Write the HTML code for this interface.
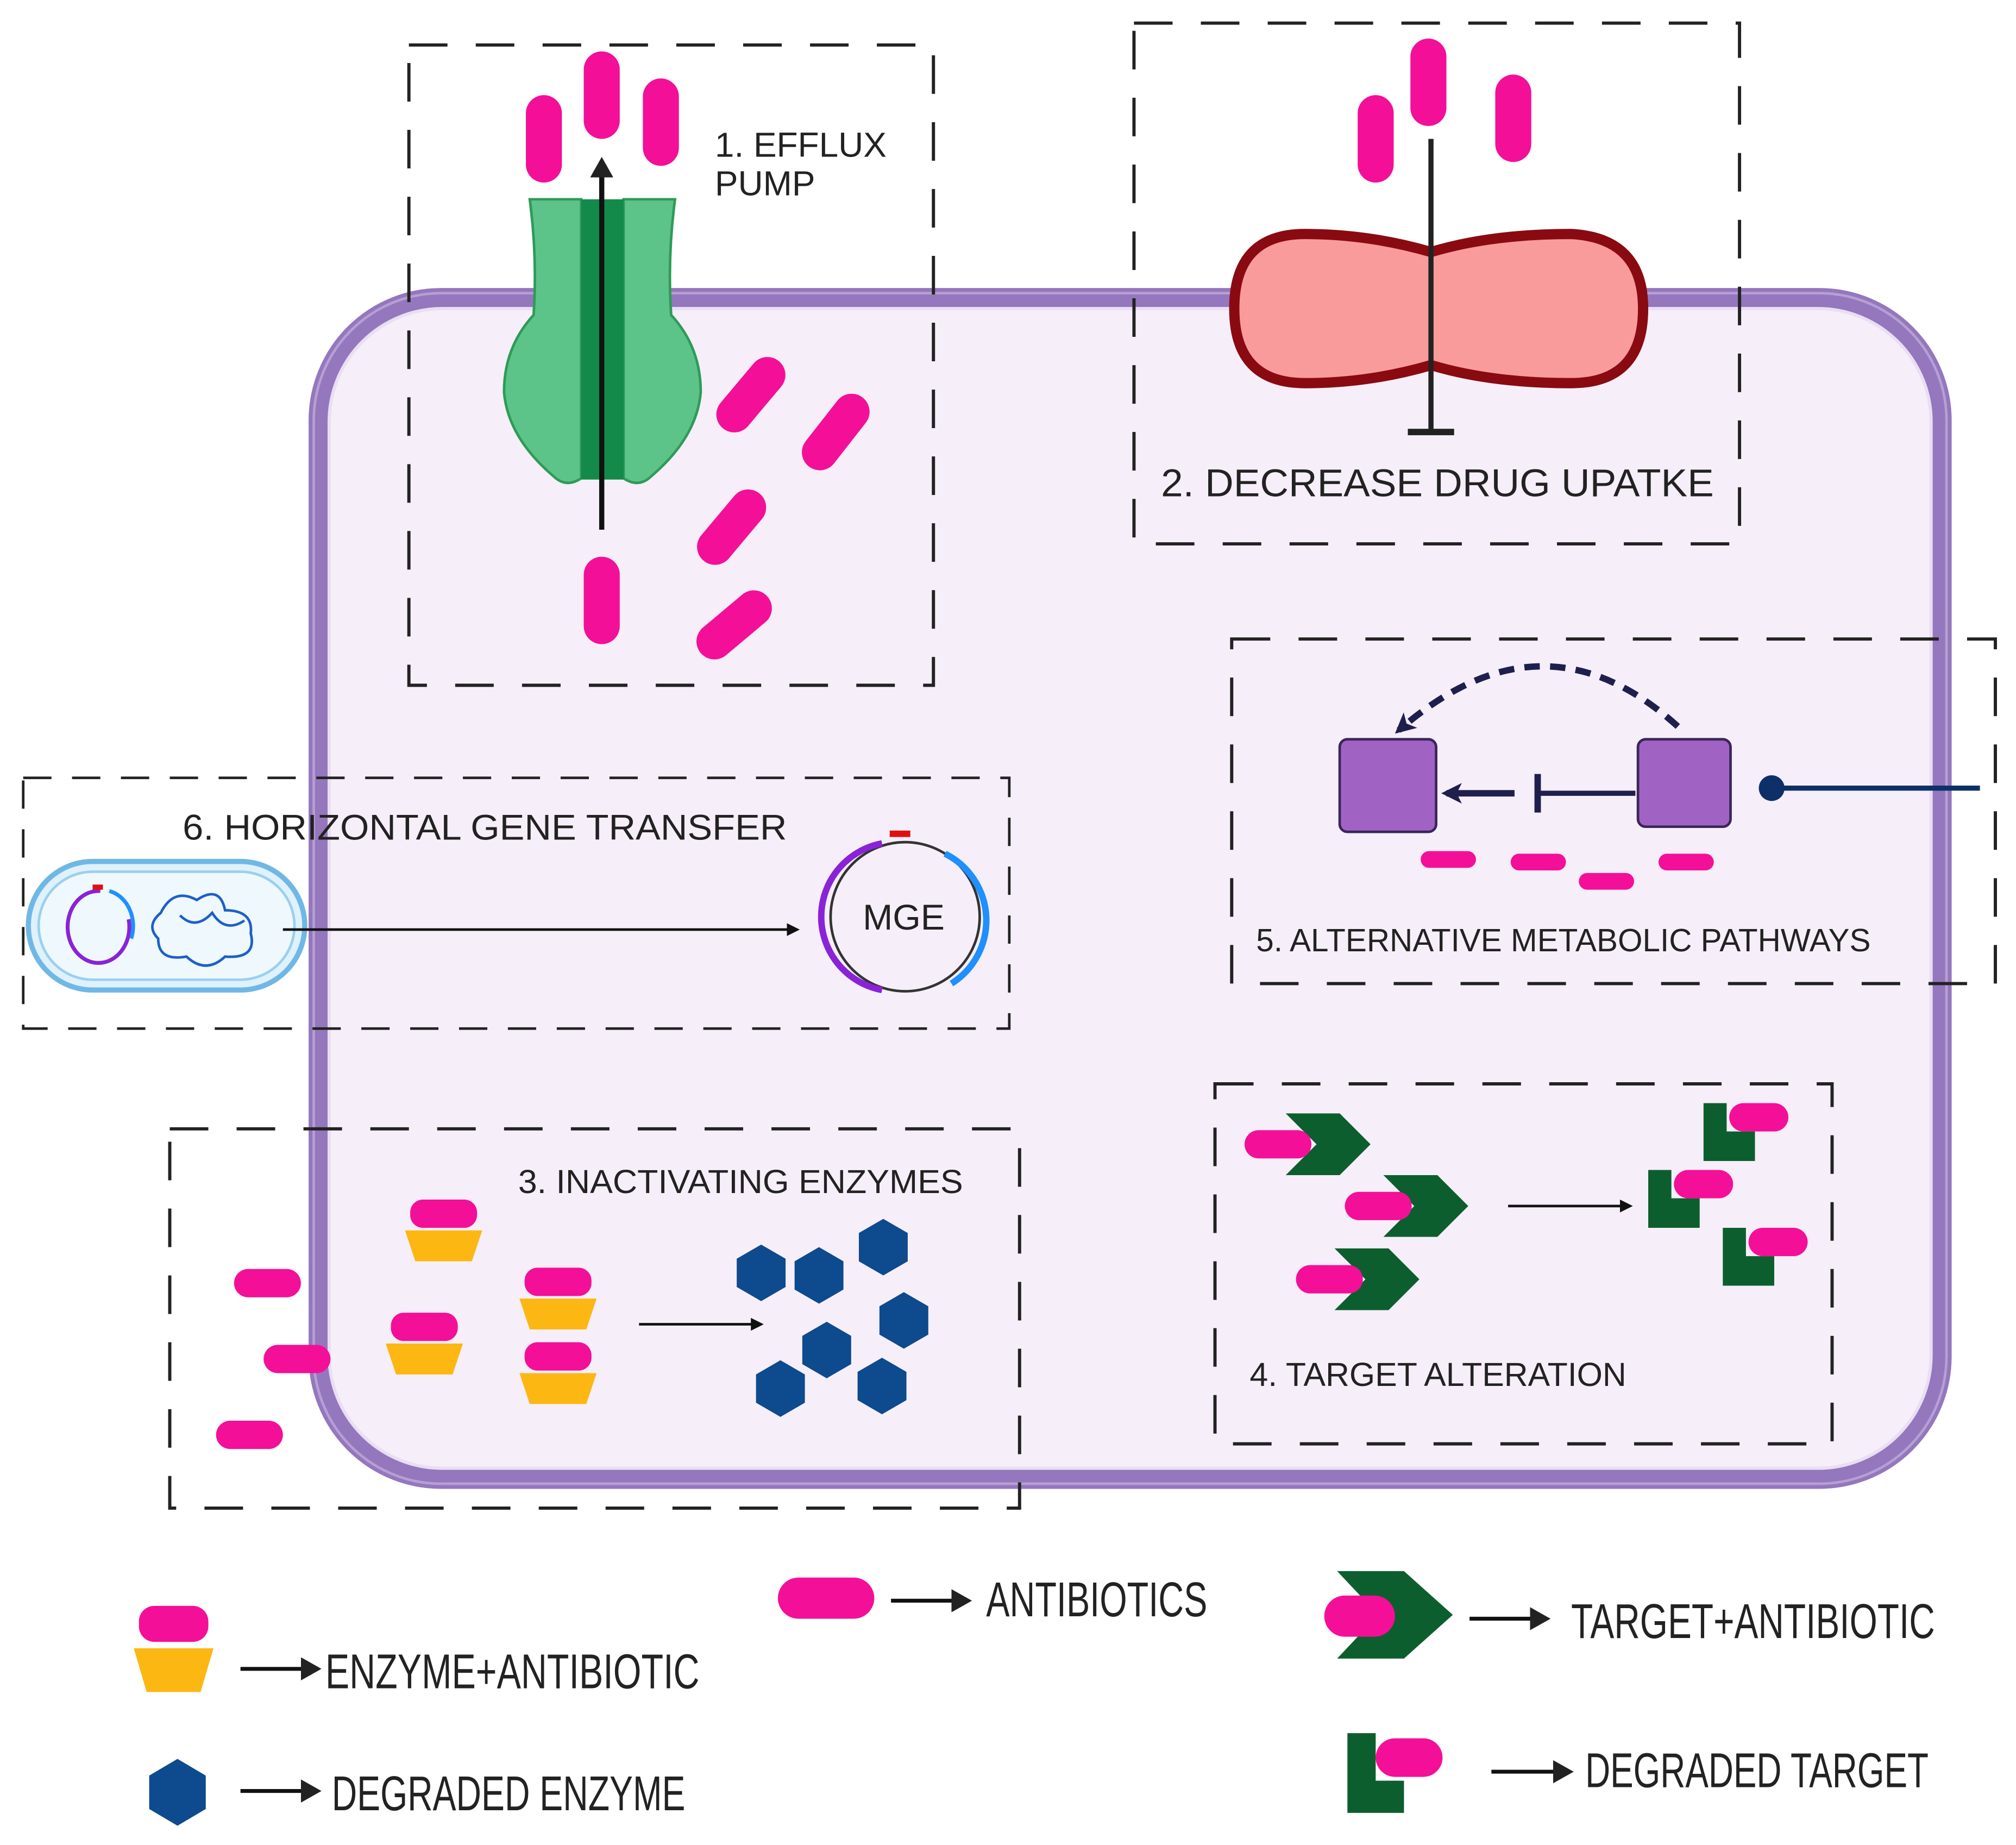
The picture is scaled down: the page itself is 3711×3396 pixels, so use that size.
<!DOCTYPE html>
<html><head><meta charset="utf-8"><style>
html,body{margin:0;padding:0;background:#fff;}
svg{display:block;}
text{font-family:"Liberation Sans",sans-serif;fill:#222;}
</style></head><body>
<svg width="3711" height="3396" viewBox="0 0 1568 1435" xmlns="http://www.w3.org/2000/svg">
<defs>
<marker id="ah" markerWidth="10" markerHeight="10" refX="8" refY="5" orient="auto" markerUnits="userSpaceOnUse"><path d="M0,0 L10,5 L0,10 z" fill="#111"/></marker>
<marker id="ahb" markerWidth="16" markerHeight="16" refX="12" refY="8" orient="auto" markerUnits="userSpaceOnUse"><path d="M0,0 L16,8 L0,16 L4,8 z" fill="#1f1f4e"/></marker>
<marker id="ahk" markerWidth="16" markerHeight="18" refX="10" refY="9" orient="auto" markerUnits="userSpaceOnUse"><path d="M0,0 L16,9 L0,18 z" fill="#222"/></marker>
<g id="pill"><rect x="-26" y="-11" width="52" height="22" rx="11" fill="#f30f97"/></g>
<g id="vpill"><rect x="-14" y="-34" width="28" height="68" rx="14" fill="#f30f97"/></g>
<polygon id="hex" points="0,-22 19,-11 19,11 0,22 -19,11 -19,-11" fill="#0e4a8e"/>
<g id="enz"><rect x="-26" y="-22" width="52" height="22" rx="10" fill="#f30f97"/><polygon points="-30,2 30,2 22,26 -22,26" fill="#fdb713"/></g>
<g id="chev"><polygon points="0,-24 42,-24 66,0 42,24 0,24 24,0" fill="#0d5e2e"/></g>
<g id="ell"><polygon points="0,0 18,0 18,22 40,22 40,45 0,45" fill="#0d5e2e"/><rect x="20" y="0" width="46" height="22" rx="11" fill="#f30f97"/></g>
</defs>

<rect x="248" y="232" width="1262" height="918" rx="95" fill="#f6eef8" stroke="#9477bd" stroke-width="16"/>
<rect x="256" y="240" width="1246" height="902" rx="88" fill="none" stroke="#e9def3" stroke-width="2.5"/>
<rect x="244" y="228" width="1270" height="926" rx="99" fill="none" stroke="#b69fd4" stroke-width="2"/>

<g fill="none" stroke="#222" stroke-width="2.5" stroke-dasharray="30,22">
<rect x="318" y="35" width="408" height="498"/>
<rect x="882" y="18" width="471" height="405"/>
<rect x="958" y="497" width="594" height="268"/>
<rect x="18" y="605" width="767" height="195" stroke-dasharray="22,16" stroke-width="2"/>
<rect x="132" y="878" width="661" height="295"/>
<rect x="945" y="843" width="480" height="280"/>
</g>

<path d="M412,155 L452,155 L452,372 Q440,380 430,370 Q395,340 392,305 Q392,270 415,245 Q418,200 412,155 Z" fill="#5cc488" stroke="#2f9a5a" stroke-width="2"/>
<path d="M525,155 L485,155 L485,372 Q497,380 507,370 Q542,340 545,305 Q545,270 522,245 Q519,200 525,155 Z" fill="#5cc488" stroke="#2f9a5a" stroke-width="2"/>
<rect x="452" y="155" width="33" height="218" fill="#148a4a"/>
<line x1="468" y1="412" x2="468" y2="128" stroke="#111" stroke-width="4" marker-end="url(#ahk)"/>
<use href="#vpill" x="423" y="108"/><use href="#vpill" x="468" y="74"/><use href="#vpill" x="514" y="95"/>
<use href="#vpill" x="468" y="467"/>
<use href="#vpill" transform="translate(584,307) rotate(40)"/>
<use href="#vpill" transform="translate(650,336) rotate(38)"/>
<use href="#vpill" transform="translate(569,410) rotate(40)"/>
<use href="#vpill" transform="translate(571,486) rotate(50)"/>
<text x="556" y="122" font-size="27">1. EFFLUX</text>
<text x="556" y="152" font-size="27">PUMP</text>

<path d="M1015,182 Q1065,182 1113,196 Q1160,182 1222,182 Q1278,185 1278,240 Q1278,298 1222,298 Q1160,298 1113,284 Q1065,298 1015,298 Q960,298 960,240 Q960,182 1015,182 Z" fill="#f99b9b" stroke="#8a0a12" stroke-width="8"/>
<use href="#vpill" x="1070" y="108"/><use href="#vpill" x="1111" y="64"/><use href="#vpill" x="1177" y="92"/>
<line x1="1113" y1="108" x2="1113" y2="336" stroke="#222" stroke-width="4"/>
<line x1="1095" y1="336" x2="1131" y2="336" stroke="#222" stroke-width="5"/>
<text x="903" y="386" font-size="30" textLength="430" lengthAdjust="spacingAndGlyphs">2. DECREASE DRUG UPATKE</text>

<rect x="1042" y="575" width="75" height="72" rx="6" fill="#a063c4" stroke="#3b2657" stroke-width="2"/>
<rect x="1274" y="575" width="72" height="68" rx="6" fill="#a063c4" stroke="#3b2657" stroke-width="2"/>
<path d="M1305,565 Q1200,470 1088,568" fill="none" stroke="#1f1f4e" stroke-width="5" stroke-dasharray="12,8" marker-end="url(#ahb)"/>
<line x1="1272" y1="617" x2="1196" y2="617" stroke="#1f1f4e" stroke-width="4"/>
<line x1="1196" y1="602" x2="1196" y2="632" stroke="#1f1f4e" stroke-width="5"/>
<line x1="1178" y1="617" x2="1125" y2="617" stroke="#1f1f4e" stroke-width="5" marker-end="url(#ahb)"/>
<line x1="1378" y1="613" x2="1540" y2="613" stroke="#0d3068" stroke-width="4"/>
<circle cx="1378" cy="613" r="10" fill="#0d3068"/>
<rect x="1105" y="662" width="43" height="13" rx="6.5" fill="#f30f97"/>
<rect x="1175" y="664" width="43" height="13" rx="6.5" fill="#f30f97"/>
<rect x="1228" y="679" width="43" height="13" rx="6.5" fill="#f30f97"/>
<rect x="1290" y="664" width="43" height="13" rx="6.5" fill="#f30f97"/>
<text x="977" y="740" font-size="25" textLength="478" lengthAdjust="spacingAndGlyphs">5. ALTERNATIVE METABOLIC PATHWAYS</text>

<text x="142" y="653" font-size="28" textLength="470" lengthAdjust="spacingAndGlyphs">6. HORIZONTAL GENE TRANSFER</text>
<rect x="22" y="670" width="215" height="100" rx="50" fill="#dff1fb" stroke="#6fb8e6" stroke-width="4"/>
<rect x="30" y="678" width="199" height="84" rx="42" fill="#eef8fd" stroke="#9ad0ef" stroke-width="2"/>
<path d="M78,693 A24,28 0 1,0 100,715" fill="none" stroke="#8a22d8" stroke-width="3"/>
<path d="M85,693 A24,28 0 0,1 102,730" fill="none" stroke="#1e90ff" stroke-width="3"/>
<rect x="72" y="688" width="8" height="4" fill="#e01010"/>
<path d="M125,710 q10,-20 28,-10 q18,-12 22,8 q22,0 20,18 q5,20 -20,18 q-15,14 -30,0 q-22,4 -22,-14 q-10,-10 2,-20 z M140,712 q12,12 25,-2 q10,16 25,6" fill="none" stroke="#1d5fc8" stroke-width="2"/>
<line x1="220" y1="723" x2="620" y2="723" stroke="#111" stroke-width="2" marker-end="url(#ah)"/>
<circle cx="704" cy="713" r="58" fill="none" stroke="#333" stroke-width="2"/>
<path d="M686,656 A58,58 0 0,0 686,770" fill="none" stroke="#8a22d8" stroke-width="5"/>
<path d="M735,664 A58,58 0 0,1 740,765" fill="none" stroke="#1e90ff" stroke-width="5"/>
<rect x="692" y="646" width="16" height="5" fill="#e01010"/>
<text x="671" y="723" font-size="28">MGE</text>

<text x="403" y="928" font-size="26" textLength="346" lengthAdjust="spacingAndGlyphs">3. INACTIVATING ENZYMES</text>
<use href="#pill" x="208" y="998"/><use href="#pill" x="231" y="1057"/><use href="#pill" x="194" y="1116"/>
<use href="#enz" x="345" y="955"/><use href="#enz" x="330" y="1043"/><use href="#enz" x="434" y="1008"/><use href="#enz" x="434" y="1066"/>
<line x1="497" y1="1030" x2="592" y2="1030" stroke="#111" stroke-width="2" marker-end="url(#ah)"/>
<use href="#hex" x="592" y="990"/><use href="#hex" x="637" y="992"/><use href="#hex" x="687" y="970"/><use href="#hex" x="703" y="1027"/><use href="#hex" x="643" y="1050"/><use href="#hex" x="607" y="1080"/><use href="#hex" x="686" y="1078"/>

<use href="#chev" x="1000" y="890"/><use href="#pill" x="994" y="890"/>
<use href="#chev" x="1076" y="938"/><use href="#pill" x="1072" y="938"/>
<use href="#chev" x="1038" y="995"/><use href="#pill" x="1034" y="995"/>
<line x1="1173" y1="938" x2="1268" y2="938" stroke="#111" stroke-width="2" marker-end="url(#ah)"/>
<use href="#ell" x="1325" y="858"/><use href="#ell" x="1282" y="910"/><use href="#ell" x="1340" y="955"/>
<text x="972" y="1078" font-size="26" textLength="293" lengthAdjust="spacingAndGlyphs">4. TARGET ALTERATION</text>

<rect x="108" y="1249" width="54" height="28" rx="12" fill="#f30f97"/>
<polygon points="104,1282 166,1282 156,1316 114,1316" fill="#fdb713"/>
<line x1="187" y1="1298" x2="244" y2="1298" stroke="#111" stroke-width="3" marker-end="url(#ahk)"/>
<text x="253" y="1313" font-size="38" textLength="291" lengthAdjust="spacingAndGlyphs">ENZYME+ANTIBIOTIC</text>
<polygon points="138,1368 160,1381 160,1407 138,1420 116,1407 116,1381" fill="#0e4a8e"/>
<line x1="187" y1="1393" x2="244" y2="1393" stroke="#111" stroke-width="3" marker-end="url(#ahk)"/>
<text x="258" y="1408" font-size="38" textLength="275" lengthAdjust="spacingAndGlyphs">DEGRADED ENZYME</text>
<rect x="605" y="1227" width="75" height="32" rx="16" fill="#f30f97"/>
<line x1="693" y1="1245" x2="750" y2="1245" stroke="#111" stroke-width="3" marker-end="url(#ahk)"/>
<text x="767" y="1257" font-size="38" textLength="172" lengthAdjust="spacingAndGlyphs">ANTIBIOTICS</text>
<polygon points="1040,1222 1092,1222 1130,1256 1092,1290 1040,1290 1072,1256" fill="#0d5e2e"/>
<rect x="1030" y="1241" width="55" height="32" rx="16" fill="#f30f97"/>
<line x1="1143" y1="1259" x2="1200" y2="1259" stroke="#111" stroke-width="3" marker-end="url(#ahk)"/>
<text x="1222" y="1274" font-size="38" textLength="283" lengthAdjust="spacingAndGlyphs">TARGET+ANTIBIOTIC</text>
<polygon points="1048,1348 1070,1348 1070,1385 1092,1385 1092,1410 1048,1410" fill="#0d5e2e"/>
<rect x="1070" y="1352" width="52" height="30" rx="15" fill="#f30f97"/>
<line x1="1160" y1="1378" x2="1218" y2="1378" stroke="#111" stroke-width="3" marker-end="url(#ahk)"/>
<text x="1233" y="1390" font-size="38" textLength="267" lengthAdjust="spacingAndGlyphs">DEGRADED TARGET</text>
</svg>
</body></html>
